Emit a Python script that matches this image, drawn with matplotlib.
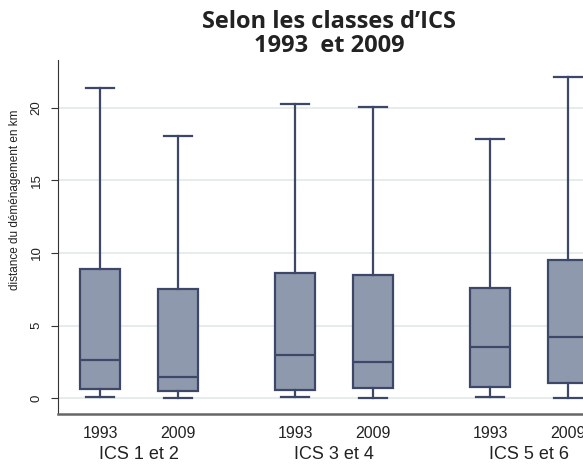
import numpy as np
import matplotlib
matplotlib.use('Agg')
import matplotlib.pyplot as plt

# valeurs (km)
annees = ['1993', '2009', '1993', '2009', '1993', '2009']
groupes = ['ICS 1 et 2', 'ICS 3 et 4', 'ICS 5 et 6']
positions = [1, 2, 3.5, 4.5, 6, 7]
bas = [0.05, 0.0, 0.1, 0.0, 0.05, 0.0]
q1 = [0.6, 0.5, 0.55, 0.7, 0.75, 1.05]
mediane = [2.65, 1.45, 2.95, 2.5, 3.5, 4.2]
q3 = [8.9, 7.5, 8.6, 8.5, 7.6, 9.5]
haut = [21.4, 18.05, 20.3, 20.05, 17.85, 22.1]

plt.rcParams['font.family'] = ['Liberation Sans', 'DejaVu Sans']

fig = plt.figure(figsize=(5.83, 4.66), dpi=100)
ax = fig.add_axes([58 / 583, 1 - 414 / 466, 1 - 58 / 583, (414 - 60) / 466])

stats = []
for i in range(len(positions)):
    stats.append({'whislo': bas[i], 'q1': q1[i], 'med': mediane[i],
                  'q3': q3[i], 'whishi': haut[i], 'fliers': []})

bleu = '#3d4768'
ax.bxp(stats, positions=positions, widths=0.51, capwidths=0.35,
       patch_artist=True, showfliers=False,
       boxprops=dict(facecolor='#8e99ad', edgecolor=bleu, linewidth=1.6),
       medianprops=dict(color=bleu, linewidth=1.6),
       whiskerprops=dict(color=bleu, linewidth=1.6),
       capprops=dict(color=bleu, linewidth=1.6))

ax.set_xlim(0.46, 1 + (583 - 100) / 78)
ax.set_ylim(-1.1, 23.3)
ax.set_yticks([0, 5, 10, 15, 20])
ax.yaxis.grid(True, color='#e4e9e9', linewidth=1.3)
ax.set_axisbelow(True)
ax.tick_params(axis='y', labelsize=9.5, rotation=90, length=5, pad=6,
               color='#333333', labelcolor='#222222')
for lab in ax.get_yticklabels():
    lab.set_va('center')
ax.set_xticks(positions)
ax.set_xticklabels(annees, fontsize=11.5)
ax.tick_params(axis='x', length=0, pad=9, labelcolor='#222222')

ax.spines['top'].set_visible(False)
ax.spines['right'].set_visible(False)
ax.spines['left'].set_color('#333333')
ax.spines['bottom'].set_color('#666666')
ax.spines['bottom'].set_linewidth(1.8)

ax.set_ylabel('distance du déménagement en km', fontsize=8.5, color='#222222')
ax.yaxis.set_label_coords(-37 / 525, 0.605)

for j, g in enumerate(groupes):
    xc = (positions[2 * j] + positions[2 * j + 1]) / 2
    ax.text(xc, -0.115, g, transform=ax.get_xaxis_transform(),
            ha='center', va='center', fontsize=13, color='#222222')

fig.text(329 / 583, 1 - 34 / 466, 'Selon les classes d\u2019ICS\n1993  et 2009',
         ha='center', va='center', fontsize=17, fontweight='bold',
         family=['Open Sans', 'DejaVu Sans'], linespacing=1.05, color='#222222')

fig.savefig('out.png', dpi=100)
